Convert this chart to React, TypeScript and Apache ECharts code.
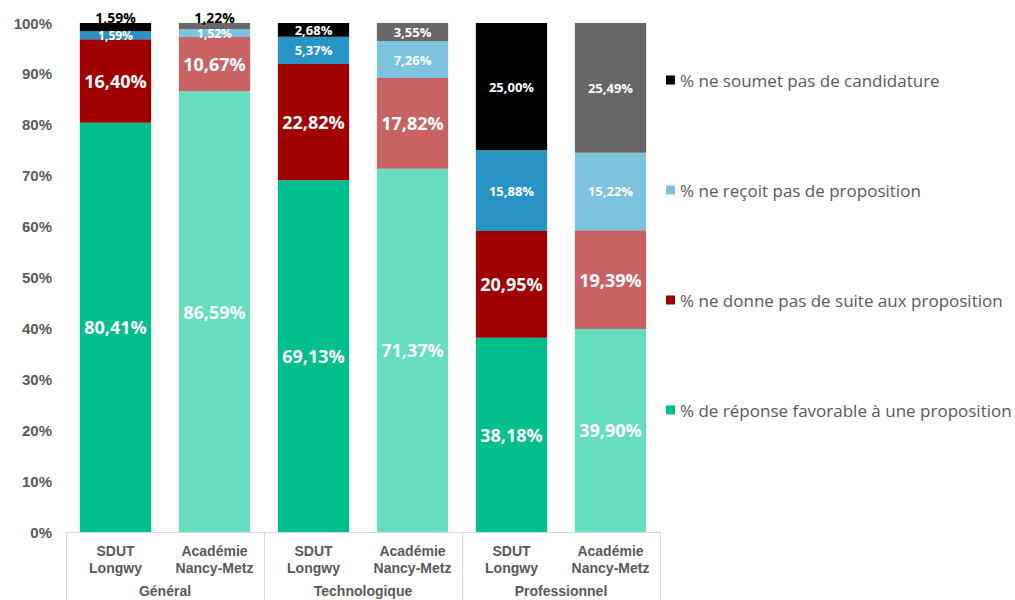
import React, { useEffect, useRef } from "react";
import * as echarts from "echarts";

const categories = [
  "SDUT\nLongwy",
  "Académie\nNancy-Metz",
  "SDUT\nLongwy",
  "Académie\nNancy-Metz",
  "SDUT\nLongwy",
  "Académie\nNancy-Metz",
];
const groups = ["Général", "Technologique", "Professionnel"];

const favorable = [80.41, 86.59, 69.13, 71.37, 38.18, 39.9];
const noSuite = [16.4, 10.67, 22.82, 17.82, 20.95, 19.39];
const noProp = [1.59, 1.52, 5.37, 7.26, 15.88, 15.22];
const noCand = [1.59, 1.22, 2.68, 3.55, 25.0, 25.49];

const yTicks = [0, 10, 20, 30, 40, 50, 60, 70, 80, 90, 100];

const seriesNames = [
  "% de réponse favorable à une proposition",
  "% ne donne pas de suite aux proposition",
  "% ne reçoit pas de proposition",
  "% ne soumet pas de candidature",
];

// [SDUT colour, Académie colour, legend colour]
const colFav = ["#00BF8C", "#66DDBE", "#00BF8C"];
const colSuite = ["#A00000", "#C96363", "#A00000"];
const colProp = ["#2A93C6", "#7DC3DE", "#7DC3DE"];
const colCand = ["#000000", "#676767", "#000000"];

const fmt = (v: number) => v.toFixed(2).replace(".", ",") + "%";

export default function App() {
  const ref = useRef<HTMLDivElement>(null);
  useEffect(() => {
    if (!ref.current) return;
    document.body.style.margin = "0";
    const chart = echarts.init(ref.current, undefined, { renderer: "svg" });
    const font = "'Open Sans', sans-serif";
    const mk = (
      name: string,
      values: number[],
      cols: string[],
      size: number,
      special?: (i: number) => any
    ) => ({
      name,
      type: "bar",
      stack: "total",
      barWidth: "72%",
      itemStyle: { color: cols[2] },
      label: {
        show: true,
        position: "inside",
        color: "#ffffff",
        fontFamily: font,
        fontWeight: "bold",
        fontSize: size,
        formatter: (p: any) => fmt(p.value),
      },
      data: values.map((v, i) => {
        const d: any = { value: v, itemStyle: { color: cols[i % 2] } };
        if (special) {
          const l = special(i);
          if (l) d.label = l;
        }
        return d;
      }),
    });
    const option: any = {
      animation: false,
      backgroundColor: "#ffffff",
      grid: { left: 66, right: 355, top: 23, bottom: 68, containLabel: false },
      legend: {
        orient: "vertical",
        left: 661,
        top: 64,
        itemGap: 88,
        itemWidth: 9,
        itemHeight: 9,
        icon: "rect",
        data: [seriesNames[3], seriesNames[2], seriesNames[1], seriesNames[0]],
        textStyle: {
          fontFamily: font,
          fontSize: 17,
          color: "#595959",
          lineHeight: 22,
        },
        selectedMode: false,
      },
      yAxis: {
        type: "value",
        min: yTicks[0],
        max: yTicks[yTicks.length - 1],
        interval: 10,
        splitLine: { show: false },
        axisLine: { show: false },
        axisTick: { show: false },
        axisLabel: {
          formatter: "{value}%",
          fontFamily: "'Liberation Sans', Arial, sans-serif",
          fontWeight: "bold",
          fontSize: 15,
          color: "#595959",
          margin: 14,
        },
      },
      xAxis: [
        {
          type: "category",
          data: categories,
          axisLine: { show: true, lineStyle: { color: "#D9D9D9", width: 1 } },
          axisTick: { show: false },
          axisLabel: {
            interval: 0,
            fontFamily: "'Liberation Sans', Arial, sans-serif",
            fontWeight: "bold",
            fontSize: 14,
            lineHeight: 17,
            color: "#595959",
            margin: 10,
          },
        },
        {
          type: "category",
          data: groups,
          position: "bottom",
          axisLine: { show: false },
          axisTick: {
            show: true,
            length: 70,
            interval: 0,
            lineStyle: { color: "#D9D9D9", width: 1 },
          },
          axisLabel: {
            interval: 0,
            fontFamily: "'Liberation Sans', Arial, sans-serif",
            fontWeight: "bold",
            fontSize: 14,
            color: "#595959",
            margin: 52,
          },
        },
      ],
      series: [
        mk(seriesNames[0], favorable, colFav, 18),
        mk(seriesNames[1], noSuite, colSuite, 18),
        mk(seriesNames[2], noProp, colProp, 13, (i) =>
          i < 2 ? { fontSize: 12 } : null
        ),
        mk(seriesNames[3], noCand, colCand, 13, (i) =>
          i < 2
            ? { position: "top", distance: -1, color: "#000000", fontSize: 14 }
            : null
        ),
      ],
    };
    chart.setOption(option);
    return () => chart.dispose();
  }, []);
  return <div ref={ref} style={{ width: 1015, height: 600 }} />;
}
